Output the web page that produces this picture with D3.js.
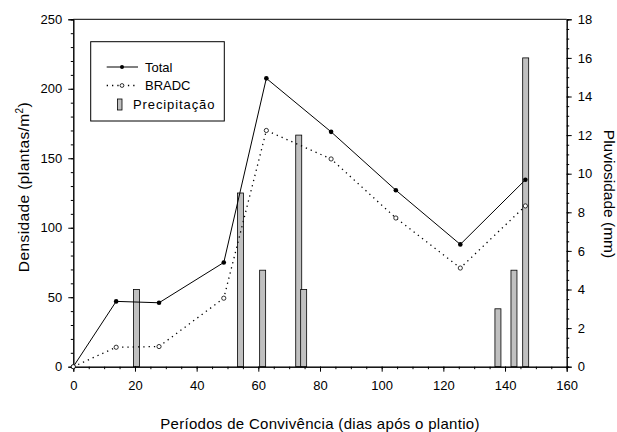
<!DOCTYPE html>
<html><head><meta charset="utf-8">
<script src="https://cdn.jsdelivr.net/npm/d3@7"></script>
<style>
body{margin:0;background:#fff;}
svg{display:block;font-family:"Liberation Sans",Arial,sans-serif;}
</style></head>
<body><svg id="c" width="617" height="432"></svg>
<script>
const days = [0, 13.9, 27.8, 48.8, 62.6, 83.6, 104.6, 125.5, 146.6];
const total = [0, 47, 46, 75, 207.5, 169, 127, 88, 134.5];
const bradc = [0, 14, 14.5, 49.3, 170, 149.5, 107, 71, 115.7];
const rainDays = [20.5, 54.2, 61.4, 73.1, 74.7, 137.7, 142.9, 146.7];
const rainMm = [4, 9, 5, 12, 4, 3, 5, 16];
const xTicks = [0, 20, 40, 60, 80, 100, 120, 140, 160];
const yLeftTicks = [0, 50, 100, 150, 200, 250];
const yRightTicks = [0, 2, 4, 6, 8, 10, 12, 14, 16, 18];
const legendLabels = ["Total", "BRADC", "Precipitação"];

const svg = d3.select("#c");
const L = 73.3, R = 566.7, T = 19.3, B = 366.7;
const x = d3.scaleLinear().domain([0, 160]).range([L, R]);
const yL = d3.scaleLinear().domain([0, 250]).range([B, T]);
const yR = d3.scaleLinear().domain([0, 18]).range([B, T]);

const fontSize = "13px";

// bars
const bw = 6;
svg.append("g").selectAll("rect").data(rainDays).join("rect")
  .attr("x", (d) => x(d) - bw / 2)
  .attr("y", (d, i) => yR(rainMm[i]))
  .attr("width", bw)
  .attr("height", (d, i) => B - yR(rainMm[i]))
  .attr("fill", "#c0c0c0").attr("stroke", "#000").attr("stroke-width", 0.8);

// axes
function styleAxis(g) {
  g.selectAll("path.domain").attr("stroke", "#000").attr("stroke-width", 1);
  g.selectAll(".tick line").attr("stroke", "#000").attr("stroke-width", 1);
  g.selectAll("text").attr("font-size", fontSize).attr("fill", "#000")
    .attr("font-family", '"Liberation Sans",Arial,sans-serif');
}
// minor ticks
svg.append("g").attr("transform", `translate(${L},0)`)
  .call(d3.axisLeft(yL).tickValues(d3.range(0, 251, 10)).tickSize(2.5).tickFormat(""))
  .call(styleAxis);
svg.append("g").attr("transform", `translate(0,${B})`)
  .call(d3.axisBottom(x).tickValues(d3.range(0, 161, 5)).tickSize(2.5).tickFormat(""))
  .call(styleAxis);
svg.append("g").attr("transform", `translate(${R},0)`)
  .call(d3.axisRight(yR).tickValues(d3.range(0, 18.01, 0.5)).tickSize(2.5).tickFormat(""))
  .call(styleAxis);
// major
svg.append("g").attr("transform", `translate(${L},0)`)
  .call(d3.axisLeft(yL).tickValues(yLeftTicks).tickSize(5).tickPadding(6))
  .call(styleAxis);
svg.append("g").attr("transform", `translate(0,${B})`)
  .call(d3.axisBottom(x).tickValues(xTicks).tickSize(5).tickPadding(9))
  .call(styleAxis);
svg.append("g").attr("transform", `translate(${R},0)`)
  .call(d3.axisRight(yR).tickValues(yRightTicks).tickSize(5).tickPadding(6))
  .call(styleAxis);
// top border
svg.append("line").attr("x1", L).attr("x2", R).attr("y1", T).attr("y2", T)
  .attr("stroke", "#000").attr("stroke-width", 1);

// lines
const lineGen = d3.line().x((d, i) => x(days[i])).y((d) => yL(d));
svg.append("path").datum(total).attr("d", lineGen)
  .attr("fill", "none").attr("stroke", "#000").attr("stroke-width", 1);
svg.append("path").datum(bradc).attr("d", lineGen)
  .attr("fill", "none").attr("stroke", "#000").attr("stroke-width", 1.3)
  .attr("stroke-dasharray", "1.3,4").attr("stroke-linecap", "butt");

svg.append("g").selectAll("circle").data(total).join("circle")
  .attr("cx", (d, i) => x(days[i])).attr("cy", (d) => yL(d)).attr("r", 2.3)
  .attr("fill", "#000");
svg.append("g").selectAll("circle").data(bradc).join("circle")
  .attr("cx", (d, i) => x(days[i])).attr("cy", (d) => yL(d)).attr("r", 2.1)
  .attr("fill", "#fff").attr("stroke", "#000").attr("stroke-width", 0.8);

// titles
svg.append("text").attr("x", 320).attr("y", 429.3)
  .attr("text-anchor", "middle").attr("font-size", "15px").attr("letter-spacing", "0.3px")
  .text("Períodos de Convivência (dias após o plantio)");
const lt = svg.append("text").attr("transform", `translate(29,187) rotate(-90)`)
  .attr("text-anchor", "middle").attr("font-size", "15.5px").attr("letter-spacing", "0.4px");
lt.append("tspan").text("Densidade (plantas/m");
lt.append("tspan").attr("font-size", "10px").attr("dy", -6).text("2");
lt.append("tspan").attr("dy", 6).text(")");
svg.append("text").attr("transform", `translate(604,194) rotate(90)`)
  .attr("text-anchor", "middle").attr("font-size", "15.5px").text("Pluviosidade (mm)");

// legend
const lg = svg.append("g");
lg.append("rect").attr("x", 90.7).attr("y", 41.7).attr("width", 133.6).attr("height", 79.3)
  .attr("fill", "#fff").attr("stroke", "#000").attr("stroke-width", 1);
const ly = [67, 85.5, 104.5];
lg.append("line").attr("x1", 106.7).attr("x2", 138).attr("y1", ly[0]).attr("y2", ly[0])
  .attr("stroke", "#000").attr("stroke-width", 1);
lg.append("circle").attr("cx", 122).attr("cy", ly[0]).attr("r", 2).attr("fill", "#000");
lg.append("line").attr("x1", 106.7).attr("x2", 138).attr("y1", ly[1]).attr("y2", ly[1])
  .attr("stroke", "#000").attr("stroke-width", 1.3).attr("stroke-dasharray", "1.3,4");
lg.append("circle").attr("cx", 122).attr("cy", ly[1]).attr("r", 1.9)
  .attr("fill", "#fff").attr("stroke", "#000").attr("stroke-width", 0.8);
lg.append("rect").attr("x", 117.5).attr("y", ly[2] - 5.5).attr("width", 4.5).attr("height", 11)
  .attr("fill", "#c0c0c0").attr("stroke", "#000").attr("stroke-width", 0.8);
lg.selectAll("text.l").data(legendLabels).join("text").attr("class", "l")
  .attr("x", (d, i) => i < 2 ? 145 : 133)
  .attr("y", (d, i) => ly[i] + 4.7)
  .attr("letter-spacing", (d, i) => i < 2 ? "0px" : "0.9px")
  .attr("font-size", fontSize).text((d) => d);
</script></body></html>
